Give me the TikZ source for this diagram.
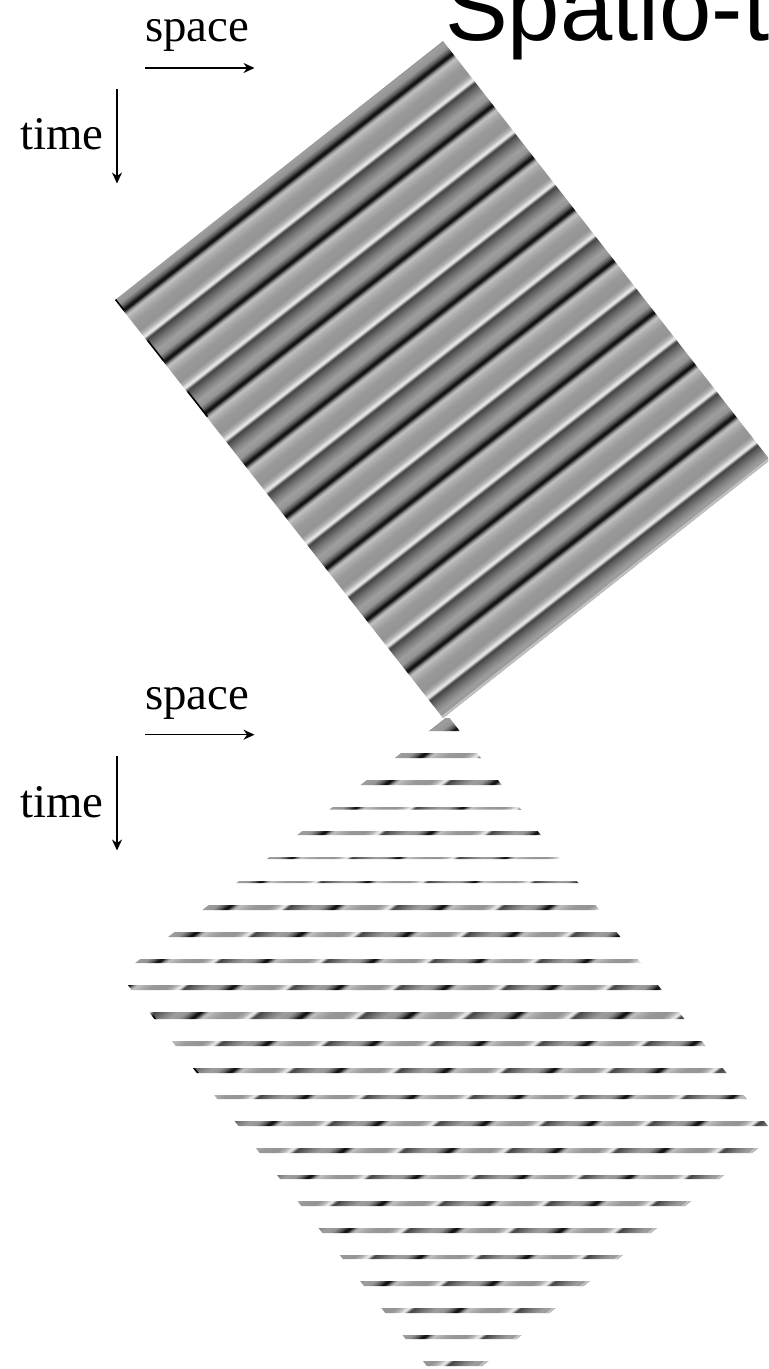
\documentclass[tikz,border=0pt]{standalone}
\usepackage{fontspec}
\setmainfont{Liberation Serif}
\newfontfamily\titlefont{Liberation Sans}
\usetikzlibrary{arrows.meta,calc}
% one band period, black line first
\gdef\bandstops{}
\foreach \n in {0,...,8} {
  \foreach \t/\g in {0/.05, 1.5/.12, 3.5/.50, 6/.76, 10/.68, 16/.60, 26/.58, 30/.70, 33/.90, 34.5/.88,
                     36/.50, 37.5/.26, 40/.34, 46/.50, 52/.62, 58/.58, 62/.35, 64.5/.12} {
    \pgfmathsetmacro\p{\n*65.6+\t}
    \xdef\bandstops{\bandstops rgb(\p bp)=(\g,\g,\g); }
  }
}
\edef\declareband{\noexpand\pgfdeclarehorizontalshading{stripeband}{430bp}
  {\bandstops rgb(590.4bp)=(.05,.05,.05)}}
\declareband
\tikzset{
  axislabel/.style ={inner sep=0pt, anchor=base west, font=\fontsize{47}{50}\selectfont},
  titlelabel/.style={inner sep=0pt, anchor=base west, font=\titlefont\fontsize{94.4}{100}\selectfont},
  axisarrow/.style ={-{Stealth[length=11bp,width=10bp]}, line width=1.4bp, draw=black},
  bandnode/.style  ={inner sep=0pt, outer sep=0pt, rotate=-52.03, anchor=north west},
  stripeplate/.pic={
    \coordinate (top) at (0,0);
    \coordinate (rgt) at (327,-419);
    \coordinate (bot) at (0,-677);
    \coordinate (lft) at (-328,-259);
    \begin{scope}
      \clip (top) -- (rgt) -- (bot) -- (lft) -- cycle;
      \node[bandnode] (band) at (-27.1,42.9) {\pgfuseshading{stripeband}};
      \draw[line width=5bp, draw=black!25] (bot) -- (rgt);              % light rim
      \draw[line width=3bp] (lft) -- ($(lft)!.025!(bot)$);              % black rim
      \draw[line width=3bp] ($(lft)!.098!(bot)$) -- ($(lft)!.146!(bot)$);
      \draw[line width=3bp] ($(lft)!.22!(bot)$) -- ($(lft)!.28!(bot)$);
    \end{scope}
  },
}

\begin{document}
\begin{tikzpicture}[x=1bp, y=1bp]
  \clip (0,0) rectangle (768,-1369);
  \node[titlelabel] (title) at (445,-41) {Spatio-t};

  % full plate
  \pic (plateA) at (443,-41) {stripeplate};
  \node[axislabel] (spaceA) at (145,-42) {space};
  \node[axislabel] (timeA) at (20,-150) {time};
  \coordinate (spaceAfrom) at (145,-68);
  \coordinate (spaceAto) at (254.5,-68);
  \coordinate (timeAfrom) at (117,-89);
  \coordinate (timeAto) at (117,-183.5);
  \draw[axisarrow] (spaceAfrom) -- (spaceAto);
  \draw[axisarrow] (timeAfrom) -- (timeAto);

  % sampled plate, rows only
  \begin{scope}
    \clip \foreach \a/\b in {718/731, 753/758, 780/785, 807/809.5, 831/835, 857/859,
                             881/883, 905/910, 932/937, 959/963, 985/990, 1012/1019,
                             1041/1046, 1068/1073, 1095/1099, 1121/1126, 1148/1153,
                             1175/1179, 1201/1206, 1228/1233, 1255/1259, 1281/1286,
                             1308/1313, 1335/1339, 1361/1366}
      {(0,-\a) rectangle (768,-\b)};
    \pic (plateB) at (448,-716) {stripeplate};
  \end{scope}
  \node[axislabel] (spaceB) at (145,-709) {space};
  \node[axislabel] (timeB) at (20,-817) {time};
  \coordinate (spaceBfrom) at (145,-734.7);
  \coordinate (spaceBto) at (254.5,-734.7);
  \coordinate (timeBfrom) at (117,-756);
  \coordinate (timeBto) at (117,-850.5);
  \draw[axisarrow] (spaceBfrom) -- (spaceBto);
  \draw[axisarrow] (timeBfrom) -- (timeBto);
\end{tikzpicture}
\end{document}
